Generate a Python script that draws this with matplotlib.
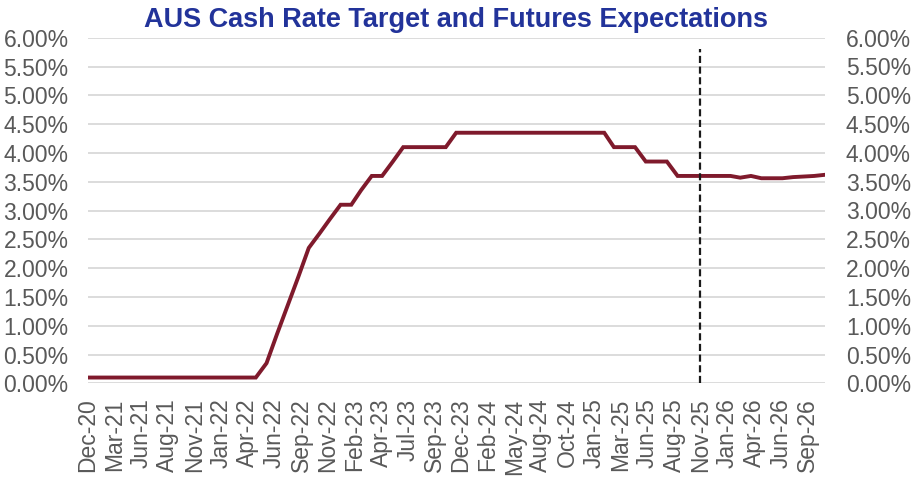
import matplotlib
matplotlib.use("Agg")
import matplotlib.pyplot as plt
import matplotlib.ticker as mticker
import pandas as pd
import numpy as np

# month-end cash rate target (%), Dec-20 .. Oct-25
actual = [0.10,
          0.10, 0.10, 0.10, 0.10, 0.10, 0.10, 0.10, 0.10, 0.10, 0.10, 0.10, 0.10,
          0.10, 0.10, 0.10, 0.10, 0.35, 0.85, 1.35, 1.85, 2.35, 2.60, 2.85, 3.10,
          3.10, 3.35, 3.60, 3.60, 3.85, 4.10, 4.10, 4.10, 4.10, 4.10, 4.35, 4.35,
          4.35, 4.35, 4.35, 4.35, 4.35, 4.35, 4.35, 4.35, 4.35, 4.35, 4.35, 4.35,
          4.35, 4.10, 4.10, 4.10, 3.85, 3.85, 3.85, 3.60, 3.60, 3.60]
# futures implied path, Nov-25 .. Oct-26
futures = [3.60, 3.60, 3.60, 3.57, 3.60, 3.56, 3.56, 3.56, 3.58, 3.59, 3.60, 3.62]

tick_labels = ["Dec-20", "Mar-21", "Jun-21", "Aug-21", "Nov-21", "Jan-22", "Apr-22",
               "Jun-22", "Sep-22", "Nov-22", "Feb-23", "Apr-23", "Jul-23", "Sep-23",
               "Dec-23", "Feb-24", "May-24", "Aug-24", "Oct-24", "Jan-25", "Mar-25",
               "Jun-25", "Aug-25", "Nov-25", "Jan-26", "Apr-26", "Jun-26", "Sep-26"]
today = "2025-11-03"

rates = actual + futures
dates = pd.date_range("2020-12-31", periods=len(rates), freq="ME")
tick_pos = [pd.Timestamp("2020-12-31") + pd.Timedelta(days=77 * i) for i in range(len(tick_labels))]

plt.rcParams['font.family'] = ['Liberation Sans', 'DejaVu Sans']
grey = "#595959"

fig = plt.figure(figsize=(9.17, 4.88), dpi=100)
ax = fig.add_axes([88 / 917, 104.7 / 488, (825 - 88) / 917, 345.6 / 488])

ax.plot(dates, rates, color="#7F1A2C", lw=2.8, solid_joinstyle="miter", zorder=3)
ax.vlines(pd.Timestamp(today), 0, 5.8, colors="#1a1a1a", linestyles=(0, (3.2, 1.6)), lw=1.6, zorder=4)

ax.set_xlim(dates[0], dates[-1])
ax.set_ylim(0, 6)
ax.set_yticks(np.arange(0, 6.01, 0.5))
ax.yaxis.set_major_formatter(mticker.FuncFormatter(lambda v, p: f"{v:.2f}%"))
ax.set_xticks(tick_pos)
ax.set_xticklabels(tick_labels, rotation=90)
ax.grid(axis="y", color="#D9D9D9", lw=1.3)
ax.set_axisbelow(True)
ax.tick_params(axis="both", length=0, labelsize=16.5, labelcolor=grey)
ax.tick_params(axis="y", pad=14)
ax.tick_params(axis="x", pad=11)
for s in ax.spines.values():
    s.set_visible(False)

ax2 = ax.twinx()
ax2.set_ylim(0, 6)
ax2.set_yticks(np.arange(0, 6.01, 0.5))
ax2.yaxis.set_major_formatter(mticker.FuncFormatter(lambda v, p: f"{v:.2f}%"))
ax2.tick_params(axis="y", length=0, labelsize=16.5, labelcolor=grey, pad=15)
for s in ax2.spines.values():
    s.set_visible(False)

fig.text(456 / 917, 1 - 20 / 488, "AUS Cash Rate Target and Futures Expectations",
         ha="center", va="center", fontsize=19.5, fontweight="bold", color="#22339A")

fig.savefig("out.png", dpi=100)
